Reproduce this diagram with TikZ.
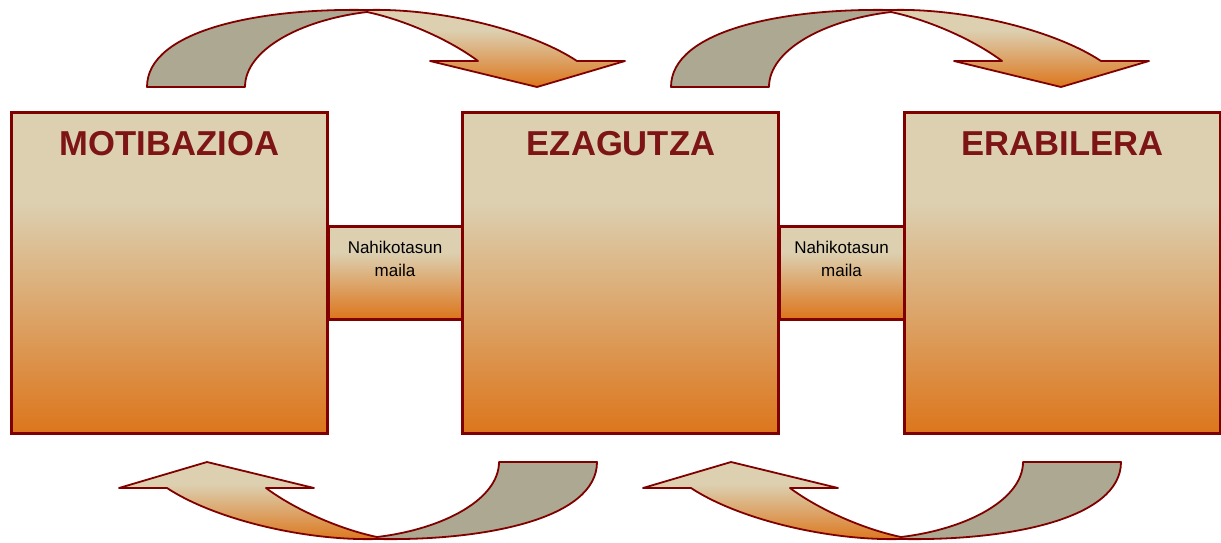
\documentclass[tikz,border=0pt]{standalone}
\usepackage{fontspec}
\setmainfont{Liberation Sans}
\usetikzlibrary{positioning}
\definecolor{darkred}{RGB}{128,0,0}
\definecolor{titlered}{RGB}{125,20,22}
\definecolor{tan}{RGB}{220,208,177}
\definecolor{rust}{RGB}{220,118,28}
\definecolor{olive}{RGB}{173,168,145}
% TAN ON TOP, THEN FADING TO RUST
\pgfdeclareverticalshading{tanfade}{100bp}{color(0bp)=(rust); color(25bp)=(rust);
  color(61bp)=(tan); color(100bp)=(tan)}
\begin{document}
\begin{tikzpicture}[x=0.5pt,y=-0.5pt,
    bigbox/.style={draw=darkred,line width=1.5pt,shading=tanfade,
      minimum width=158pt,minimum height=160.5pt,inner sep=0pt,outer sep=0pt},
    linkbox/.style={draw=darkred,line width=1.5pt,shading=tanfade,
      minimum height=46.5pt,inner sep=0pt,outer sep=0pt},
    boxtitle/.style={font=\fontsize{17.3}{20}\selectfont\bfseries,text=titlered,inner sep=0pt,anchor=base},
    linktext/.style={font=\fontsize{8.5}{11.5}\selectfont,align=center,inner sep=0pt},
    backpart/.style={draw=darkred,line width=0.9pt,fill=olive,line join=round},
    frontpart/.style={draw=darkred,line width=0.9pt,shading=tanfade,line join=round}]
    \useasboundingbox (0,0) rectangle (1221,542);
    %LINKS (UNDER THE BOXES)
    \node[linkbox,minimum width=67pt]   (link1) at (395,272.5) {};
    \node[linkbox,minimum width=62.5pt] (link2) at (841.5,272.5) {};
    \node[linktext,below=7.3pt of link1.north] (link1txt) {Nahikotasun\\maila};
    \node[linktext,below=7.3pt of link2.north] (link2txt) {Nahikotasun\\maila};
    %BOXES
    \node[bigbox] (mot) at (169,272.5) {};
    \node[bigbox] (eza) at (620.5,272.5) {};
    \node[bigbox] (era) at (1062,272.5) {};
    \node[boxtitle] (motT) at (169.5,155) {MOTIBAZIOA};
    \node[boxtitle] (ezaT) at (621,155) {EZAGUTZA};
    \node[boxtitle] (eraT) at (1062.5,155) {ERABILERA};
    % ARROWS ON TOP (GOING RIGHT)
    \foreach \s in {0,524} {
    \begin{scope}[xshift=\s*0.5pt]
    \path[backpart] (147,87) .. controls (147,30) and (260,8) .. (367,10) -- (367,12)
      .. controls (300,20) and (245,50) .. (245,87) -- cycle;
    \path[frontpart] (367,10) .. controls (440,8) and (530,30) .. (577,61) -- (625,61) -- (537,87)
      -- (430,61) -- (478,61) .. controls (450,40) and (405,20) .. (367,12) -- cycle;
    \end{scope}
    }
    % ARROWS AT THE BOTTOM (GOING LEFT)
    \foreach \s in {0,524} {
    \begin{scope}[xshift=\s*0.5pt]
    \path[backpart] (597,462) .. controls (597,519) and (484,541) .. (377,539) -- (377,537)
      .. controls (444,529) and (499,499) .. (499,462) -- cycle;
    \path[frontpart] (377,539) .. controls (304,541) and (214,519) .. (167,488) -- (119,488) -- (207,462)
      -- (314,488) -- (266,488) .. controls (294,509) and (339,529) .. (377,537) -- cycle;
    \end{scope}
    }
\end{tikzpicture}
\end{document}
